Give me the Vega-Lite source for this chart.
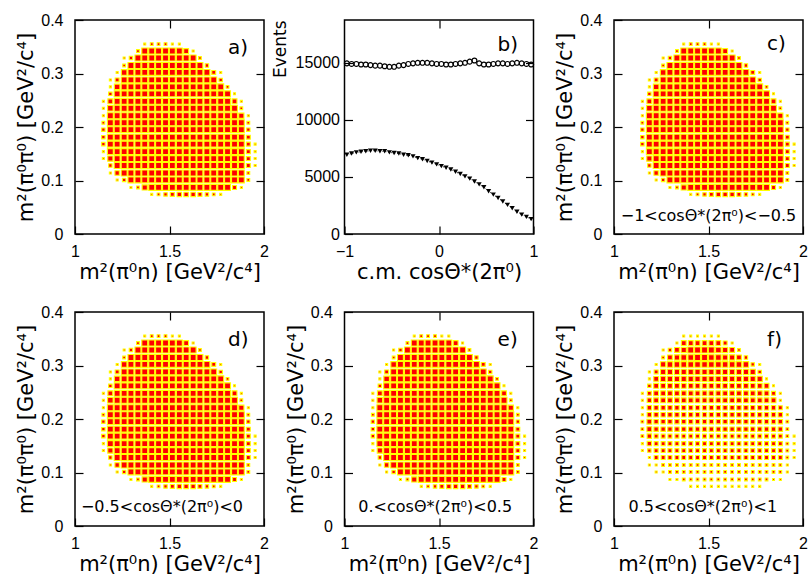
{
"$schema":"https://vega.github.io/schema/vega-lite/v6.json",
"background":"white",
"autosize":{"type":"pad"},
"padding":{"left":15,"top":11,"right":2,"bottom":2},
"config":{
 "view":{"stroke":"black","strokeWidth":1.5},
 "font":"DejaVu Sans",
 "axis":{"domain":false,"grid":false,"labelFontSize":16,"titleFontSize":21,"titleFontWeight":"normal","labelColor":"black","titleColor":"black","tickColor":"black","tickWidth":1.2,"tickSize":-8,"labelFlush":false,"labelOverlap":false,"labelBound":false,"labelFont":"Liberation Sans","titleFont":"DejaVu Sans"},
 "text":{"font":"DejaVu Sans","color":"black"}
},
"datasets":{
"cells":[
{"x":1.406,"y":0.074,"a":1,"c":1,"d":1,"e":1,"f":1},
{"x":1.442,"y":0.074,"a":2,"c":2,"d":2,"e":2,"f":1},
{"x":1.479,"y":0.074,"a":3,"c":3,"d":3,"e":3,"f":1},
{"x":1.515,"y":0.074,"a":4,"c":4,"d":4,"e":4,"f":1},
{"x":1.552,"y":0.074,"a":5,"c":5,"d":5,"e":5,"f":1},
{"x":1.588,"y":0.074,"a":5,"c":5,"d":5,"e":5,"f":1},
{"x":1.625,"y":0.074,"a":5,"c":5,"d":5,"e":5,"f":1},
{"x":1.661,"y":0.074,"a":4,"c":4,"d":4,"e":4,"f":1},
{"x":1.698,"y":0.074,"a":3,"c":3,"d":3,"e":3,"f":1},
{"x":1.734,"y":0.074,"a":2,"c":2,"d":2,"e":2,"f":1},
{"x":1.771,"y":0.074,"a":1,"c":1,"d":1,"e":1,"f":1},
{"x":1.296,"y":0.087,"a":1,"c":1,"d":1,"e":1,"f":1},
{"x":1.333,"y":0.087,"a":2,"c":2,"d":2,"e":2,"f":1},
{"x":1.369,"y":0.087,"a":7,"c":7,"d":7,"e":7,"f":2},
{"x":1.406,"y":0.087,"a":9,"c":9,"d":9,"e":9,"f":2},
{"x":1.442,"y":0.087,"a":9,"c":9,"d":9,"e":9,"f":2},
{"x":1.479,"y":0.087,"a":9,"c":9,"d":9,"e":9,"f":2},
{"x":1.515,"y":0.087,"a":9,"c":9,"d":9,"e":9,"f":2},
{"x":1.552,"y":0.087,"a":9,"c":9,"d":9,"e":9,"f":2},
{"x":1.588,"y":0.087,"a":9,"c":9,"d":9,"e":9,"f":2},
{"x":1.625,"y":0.087,"a":9,"c":9,"d":9,"e":9,"f":2},
{"x":1.661,"y":0.087,"a":9,"c":9,"d":9,"e":9,"f":2},
{"x":1.698,"y":0.087,"a":9,"c":9,"d":9,"e":9,"f":2},
{"x":1.734,"y":0.087,"a":9,"c":9,"d":9,"e":9,"f":2},
{"x":1.771,"y":0.087,"a":9,"c":9,"d":9,"e":9,"f":2},
{"x":1.807,"y":0.087,"a":9,"c":9,"d":9,"e":9,"f":2},
{"x":1.844,"y":0.087,"a":4,"c":4,"d":4,"e":4,"f":1},
{"x":1.88,"y":0.087,"a":1,"c":1,"d":1,"e":1,"f":1},
{"x":1.223,"y":0.101,"a":1,"c":1,"d":1,"e":1,"f":1},
{"x":1.26,"y":0.101,"a":3,"c":3,"d":3,"e":3,"f":1},
{"x":1.296,"y":0.101,"a":9,"c":9,"d":9,"e":9,"f":2},
{"x":1.333,"y":0.101,"a":9,"c":9,"d":9,"e":9,"f":2},
{"x":1.369,"y":0.101,"a":9,"c":9,"d":9,"e":9,"f":2},
{"x":1.406,"y":0.101,"a":9,"c":9,"d":9,"e":9,"f":2},
{"x":1.442,"y":0.101,"a":9,"c":9,"d":9,"e":9,"f":2},
{"x":1.479,"y":0.101,"a":9,"c":9,"d":9,"e":9,"f":2},
{"x":1.515,"y":0.101,"a":9,"c":9,"d":9,"e":9,"f":2},
{"x":1.552,"y":0.101,"a":9,"c":9,"d":9,"e":9,"f":2},
{"x":1.588,"y":0.101,"a":9,"c":9,"d":9,"e":9,"f":2},
{"x":1.625,"y":0.101,"a":9,"c":9,"d":9,"e":9,"f":2},
{"x":1.661,"y":0.101,"a":9,"c":9,"d":9,"e":9,"f":2},
{"x":1.698,"y":0.101,"a":9,"c":9,"d":9,"e":9,"f":2},
{"x":1.734,"y":0.101,"a":9,"c":9,"d":9,"e":9,"f":2},
{"x":1.771,"y":0.101,"a":9,"c":9,"d":9,"e":9,"f":2},
{"x":1.807,"y":0.101,"a":9,"c":9,"d":9,"e":9,"f":2},
{"x":1.844,"y":0.101,"a":9,"c":9,"d":9,"e":9,"f":2},
{"x":1.88,"y":0.101,"a":9,"c":9,"d":9,"e":9,"f":2},
{"x":1.917,"y":0.101,"a":2,"c":2,"d":2,"e":2,"f":1},
{"x":1.187,"y":0.114,"a":1,"c":1,"d":1,"e":1,"f":1},
{"x":1.223,"y":0.114,"a":5,"c":5,"d":5,"e":5,"f":1},
{"x":1.26,"y":0.114,"a":9,"c":9,"d":9,"e":9,"f":2},
{"x":1.296,"y":0.114,"a":9,"c":9,"d":9,"e":9,"f":2},
{"x":1.333,"y":0.114,"a":9,"c":9,"d":9,"e":9,"f":2},
{"x":1.369,"y":0.114,"a":9,"c":9,"d":9,"e":9,"f":2},
{"x":1.406,"y":0.114,"a":9,"c":9,"d":9,"e":9,"f":2},
{"x":1.442,"y":0.114,"a":9,"c":9,"d":9,"e":9,"f":2},
{"x":1.479,"y":0.114,"a":9,"c":9,"d":9,"e":9,"f":2},
{"x":1.515,"y":0.114,"a":9,"c":9,"d":9,"e":9,"f":2},
{"x":1.552,"y":0.114,"a":9,"c":9,"d":9,"e":9,"f":2},
{"x":1.588,"y":0.114,"a":9,"c":9,"d":9,"e":9,"f":2},
{"x":1.625,"y":0.114,"a":9,"c":9,"d":9,"e":9,"f":2},
{"x":1.661,"y":0.114,"a":9,"c":9,"d":9,"e":9,"f":2},
{"x":1.698,"y":0.114,"a":9,"c":9,"d":9,"e":9,"f":2},
{"x":1.734,"y":0.114,"a":9,"c":9,"d":9,"e":9,"f":2},
{"x":1.771,"y":0.114,"a":9,"c":9,"d":9,"e":9,"f":2},
{"x":1.807,"y":0.114,"a":9,"c":9,"d":9,"e":9,"f":2},
{"x":1.844,"y":0.114,"a":9,"c":9,"d":9,"e":9,"f":2},
{"x":1.88,"y":0.114,"a":9,"c":9,"d":9,"e":9,"f":2},
{"x":1.917,"y":0.114,"a":2,"c":2,"d":2,"e":2,"f":1},
{"x":1.187,"y":0.128,"a":3,"c":3,"d":3,"e":3,"f":1},
{"x":1.223,"y":0.128,"a":9,"c":9,"d":9,"e":9,"f":4},
{"x":1.26,"y":0.128,"a":9,"c":9,"d":9,"e":9,"f":4},
{"x":1.296,"y":0.128,"a":9,"c":9,"d":9,"e":9,"f":4},
{"x":1.333,"y":0.128,"a":9,"c":9,"d":9,"e":9,"f":4},
{"x":1.369,"y":0.128,"a":9,"c":9,"d":9,"e":9,"f":4},
{"x":1.406,"y":0.128,"a":9,"c":9,"d":9,"e":9,"f":4},
{"x":1.442,"y":0.128,"a":9,"c":9,"d":9,"e":9,"f":4},
{"x":1.479,"y":0.128,"a":9,"c":9,"d":9,"e":9,"f":4},
{"x":1.515,"y":0.128,"a":9,"c":9,"d":9,"e":9,"f":4},
{"x":1.552,"y":0.128,"a":9,"c":9,"d":9,"e":9,"f":4},
{"x":1.588,"y":0.128,"a":9,"c":9,"d":9,"e":9,"f":4},
{"x":1.625,"y":0.128,"a":9,"c":9,"d":9,"e":9,"f":4},
{"x":1.661,"y":0.128,"a":9,"c":9,"d":9,"e":9,"f":4},
{"x":1.698,"y":0.128,"a":9,"c":9,"d":9,"e":9,"f":4},
{"x":1.734,"y":0.128,"a":9,"c":9,"d":9,"e":9,"f":4},
{"x":1.771,"y":0.128,"a":9,"c":9,"d":9,"e":9,"f":4},
{"x":1.807,"y":0.128,"a":9,"c":9,"d":9,"e":9,"f":4},
{"x":1.844,"y":0.128,"a":9,"c":9,"d":9,"e":9,"f":4},
{"x":1.88,"y":0.128,"a":9,"c":9,"d":9,"e":9,"f":4},
{"x":1.917,"y":0.128,"a":4,"c":4,"d":4,"e":4,"f":2},
{"x":1.953,"y":0.128,"a":1,"c":1,"d":1,"e":1,"f":1},
{"x":1.15,"y":0.141,"a":1,"c":1,"d":1,"e":1,"f":1},
{"x":1.187,"y":0.141,"a":7,"c":7,"d":7,"e":7,"f":3},
{"x":1.223,"y":0.141,"a":9,"c":9,"d":9,"e":9,"f":4},
{"x":1.26,"y":0.141,"a":9,"c":9,"d":9,"e":9,"f":4},
{"x":1.296,"y":0.141,"a":9,"c":9,"d":9,"e":9,"f":4},
{"x":1.333,"y":0.141,"a":9,"c":9,"d":9,"e":9,"f":4},
{"x":1.369,"y":0.141,"a":9,"c":9,"d":9,"e":9,"f":4},
{"x":1.406,"y":0.141,"a":9,"c":9,"d":9,"e":9,"f":4},
{"x":1.442,"y":0.141,"a":9,"c":9,"d":9,"e":9,"f":4},
{"x":1.479,"y":0.141,"a":9,"c":9,"d":9,"e":9,"f":4},
{"x":1.515,"y":0.141,"a":9,"c":9,"d":9,"e":9,"f":4},
{"x":1.552,"y":0.141,"a":9,"c":9,"d":9,"e":9,"f":4},
{"x":1.588,"y":0.141,"a":9,"c":9,"d":9,"e":9,"f":4},
{"x":1.625,"y":0.141,"a":9,"c":9,"d":9,"e":9,"f":4},
{"x":1.661,"y":0.141,"a":9,"c":9,"d":9,"e":9,"f":4},
{"x":1.698,"y":0.141,"a":9,"c":9,"d":9,"e":9,"f":4},
{"x":1.734,"y":0.141,"a":9,"c":9,"d":9,"e":9,"f":4},
{"x":1.771,"y":0.141,"a":9,"c":9,"d":9,"e":9,"f":4},
{"x":1.807,"y":0.141,"a":9,"c":9,"d":9,"e":9,"f":4},
{"x":1.844,"y":0.141,"a":9,"c":9,"d":9,"e":9,"f":4},
{"x":1.88,"y":0.141,"a":9,"c":9,"d":9,"e":9,"f":4},
{"x":1.917,"y":0.141,"a":4,"c":4,"d":4,"e":4,"f":2},
{"x":1.953,"y":0.141,"a":1,"c":1,"d":1,"e":1,"f":1},
{"x":1.15,"y":0.154,"a":1,"c":1,"d":1,"e":1,"f":1},
{"x":1.187,"y":0.154,"a":9,"c":9,"d":9,"e":9,"f":5},
{"x":1.223,"y":0.154,"a":9,"c":9,"d":9,"e":9,"f":4},
{"x":1.26,"y":0.154,"a":9,"c":9,"d":9,"e":9,"f":4},
{"x":1.296,"y":0.154,"a":9,"c":9,"d":9,"e":9,"f":4},
{"x":1.333,"y":0.154,"a":9,"c":9,"d":9,"e":9,"f":4},
{"x":1.369,"y":0.154,"a":9,"c":9,"d":9,"e":9,"f":4},
{"x":1.406,"y":0.154,"a":9,"c":9,"d":9,"e":9,"f":4},
{"x":1.442,"y":0.154,"a":9,"c":9,"d":9,"e":9,"f":4},
{"x":1.479,"y":0.154,"a":9,"c":9,"d":9,"e":9,"f":4},
{"x":1.515,"y":0.154,"a":9,"c":9,"d":9,"e":9,"f":4},
{"x":1.552,"y":0.154,"a":9,"c":9,"d":9,"e":9,"f":4},
{"x":1.588,"y":0.154,"a":9,"c":9,"d":9,"e":9,"f":4},
{"x":1.625,"y":0.154,"a":9,"c":9,"d":9,"e":9,"f":4},
{"x":1.661,"y":0.154,"a":9,"c":9,"d":9,"e":9,"f":4},
{"x":1.698,"y":0.154,"a":9,"c":9,"d":9,"e":9,"f":4},
{"x":1.734,"y":0.154,"a":9,"c":9,"d":9,"e":9,"f":4},
{"x":1.771,"y":0.154,"a":9,"c":9,"d":9,"e":9,"f":4},
{"x":1.807,"y":0.154,"a":9,"c":9,"d":9,"e":9,"f":4},
{"x":1.844,"y":0.154,"a":9,"c":9,"d":9,"e":9,"f":4},
{"x":1.88,"y":0.154,"a":9,"c":9,"d":9,"e":9,"f":4},
{"x":1.917,"y":0.154,"a":4,"c":4,"d":4,"e":4,"f":2},
{"x":1.953,"y":0.154,"a":1,"c":1,"d":1,"e":1,"f":1},
{"x":1.15,"y":0.168,"a":3,"c":3,"d":3,"e":3,"f":2},
{"x":1.187,"y":0.168,"a":9,"c":9,"d":9,"e":9,"f":5},
{"x":1.223,"y":0.168,"a":9,"c":9,"d":9,"e":9,"f":4},
{"x":1.26,"y":0.168,"a":9,"c":9,"d":9,"e":9,"f":4},
{"x":1.296,"y":0.168,"a":9,"c":9,"d":9,"e":9,"f":4},
{"x":1.333,"y":0.168,"a":9,"c":9,"d":9,"e":9,"f":4},
{"x":1.369,"y":0.168,"a":9,"c":9,"d":9,"e":9,"f":4},
{"x":1.406,"y":0.168,"a":9,"c":9,"d":9,"e":9,"f":4},
{"x":1.442,"y":0.168,"a":9,"c":9,"d":9,"e":9,"f":4},
{"x":1.479,"y":0.168,"a":9,"c":9,"d":9,"e":9,"f":4},
{"x":1.515,"y":0.168,"a":9,"c":9,"d":9,"e":9,"f":4},
{"x":1.552,"y":0.168,"a":9,"c":9,"d":9,"e":9,"f":4},
{"x":1.588,"y":0.168,"a":9,"c":9,"d":9,"e":9,"f":4},
{"x":1.625,"y":0.168,"a":9,"c":9,"d":9,"e":9,"f":4},
{"x":1.661,"y":0.168,"a":9,"c":9,"d":9,"e":9,"f":4},
{"x":1.698,"y":0.168,"a":9,"c":9,"d":9,"e":9,"f":4},
{"x":1.734,"y":0.168,"a":9,"c":9,"d":9,"e":9,"f":4},
{"x":1.771,"y":0.168,"a":9,"c":9,"d":9,"e":9,"f":4},
{"x":1.807,"y":0.168,"a":9,"c":9,"d":9,"e":9,"f":4},
{"x":1.844,"y":0.168,"a":9,"c":9,"d":9,"e":9,"f":4},
{"x":1.88,"y":0.168,"a":9,"c":9,"d":9,"e":9,"f":4},
{"x":1.917,"y":0.168,"a":4,"c":4,"d":4,"e":4,"f":2},
{"x":1.953,"y":0.168,"a":1,"c":1,"d":1,"e":1,"f":1},
{"x":1.15,"y":0.181,"a":3,"c":3,"d":3,"e":3,"f":2},
{"x":1.187,"y":0.181,"a":9,"c":9,"d":9,"e":9,"f":6},
{"x":1.223,"y":0.181,"a":9,"c":9,"d":9,"e":9,"f":5},
{"x":1.26,"y":0.181,"a":9,"c":9,"d":9,"e":9,"f":5},
{"x":1.296,"y":0.181,"a":9,"c":9,"d":9,"e":9,"f":5},
{"x":1.333,"y":0.181,"a":9,"c":9,"d":9,"e":9,"f":5},
{"x":1.369,"y":0.181,"a":9,"c":9,"d":9,"e":9,"f":5},
{"x":1.406,"y":0.181,"a":9,"c":9,"d":9,"e":9,"f":5},
{"x":1.442,"y":0.181,"a":9,"c":9,"d":9,"e":9,"f":5},
{"x":1.479,"y":0.181,"a":9,"c":9,"d":9,"e":9,"f":5},
{"x":1.515,"y":0.181,"a":9,"c":9,"d":9,"e":9,"f":5},
{"x":1.552,"y":0.181,"a":9,"c":9,"d":9,"e":9,"f":5},
{"x":1.588,"y":0.181,"a":9,"c":9,"d":9,"e":9,"f":5},
{"x":1.625,"y":0.181,"a":9,"c":9,"d":9,"e":9,"f":5},
{"x":1.661,"y":0.181,"a":9,"c":9,"d":9,"e":9,"f":5},
{"x":1.698,"y":0.181,"a":9,"c":9,"d":9,"e":9,"f":5},
{"x":1.734,"y":0.181,"a":9,"c":9,"d":9,"e":9,"f":5},
{"x":1.771,"y":0.181,"a":9,"c":9,"d":9,"e":9,"f":5},
{"x":1.807,"y":0.181,"a":9,"c":9,"d":9,"e":9,"f":5},
{"x":1.844,"y":0.181,"a":9,"c":9,"d":9,"e":9,"f":5},
{"x":1.88,"y":0.181,"a":9,"c":9,"d":9,"e":9,"f":5},
{"x":1.917,"y":0.181,"a":4,"c":4,"d":4,"e":4,"f":2},
{"x":1.15,"y":0.195,"a":3,"c":3,"d":3,"e":3,"f":2},
{"x":1.187,"y":0.195,"a":9,"c":9,"d":9,"e":9,"f":6},
{"x":1.223,"y":0.195,"a":9,"c":9,"d":9,"e":9,"f":5},
{"x":1.26,"y":0.195,"a":9,"c":9,"d":9,"e":9,"f":5},
{"x":1.296,"y":0.195,"a":9,"c":9,"d":9,"e":9,"f":5},
{"x":1.333,"y":0.195,"a":9,"c":9,"d":9,"e":9,"f":5},
{"x":1.369,"y":0.195,"a":9,"c":9,"d":9,"e":9,"f":5},
{"x":1.406,"y":0.195,"a":9,"c":9,"d":9,"e":9,"f":5},
{"x":1.442,"y":0.195,"a":9,"c":9,"d":9,"e":9,"f":5},
{"x":1.479,"y":0.195,"a":9,"c":9,"d":9,"e":9,"f":5},
{"x":1.515,"y":0.195,"a":9,"c":9,"d":9,"e":9,"f":5},
{"x":1.552,"y":0.195,"a":9,"c":9,"d":9,"e":9,"f":5},
{"x":1.588,"y":0.195,"a":9,"c":9,"d":9,"e":9,"f":5},
{"x":1.625,"y":0.195,"a":9,"c":9,"d":9,"e":9,"f":5},
{"x":1.661,"y":0.195,"a":9,"c":9,"d":9,"e":9,"f":5},
{"x":1.698,"y":0.195,"a":9,"c":9,"d":9,"e":9,"f":5},
{"x":1.734,"y":0.195,"a":9,"c":9,"d":9,"e":9,"f":5},
{"x":1.771,"y":0.195,"a":9,"c":9,"d":9,"e":9,"f":5},
{"x":1.807,"y":0.195,"a":9,"c":9,"d":9,"e":9,"f":5},
{"x":1.844,"y":0.195,"a":9,"c":9,"d":9,"e":9,"f":5},
{"x":1.88,"y":0.195,"a":9,"c":9,"d":9,"e":9,"f":5},
{"x":1.917,"y":0.195,"a":3,"c":3,"d":3,"e":3,"f":2},
{"x":1.15,"y":0.208,"a":2,"c":2,"d":2,"e":2,"f":1},
{"x":1.187,"y":0.208,"a":9,"c":9,"d":9,"e":9,"f":5},
{"x":1.223,"y":0.208,"a":9,"c":9,"d":9,"e":9,"f":5},
{"x":1.26,"y":0.208,"a":9,"c":9,"d":9,"e":9,"f":5},
{"x":1.296,"y":0.208,"a":9,"c":9,"d":9,"e":9,"f":5},
{"x":1.333,"y":0.208,"a":9,"c":9,"d":9,"e":9,"f":5},
{"x":1.369,"y":0.208,"a":9,"c":9,"d":9,"e":9,"f":5},
{"x":1.406,"y":0.208,"a":9,"c":9,"d":9,"e":9,"f":5},
{"x":1.442,"y":0.208,"a":9,"c":9,"d":9,"e":9,"f":5},
{"x":1.479,"y":0.208,"a":9,"c":9,"d":9,"e":9,"f":5},
{"x":1.515,"y":0.208,"a":9,"c":9,"d":9,"e":9,"f":5},
{"x":1.552,"y":0.208,"a":9,"c":9,"d":9,"e":9,"f":5},
{"x":1.588,"y":0.208,"a":9,"c":9,"d":9,"e":9,"f":5},
{"x":1.625,"y":0.208,"a":9,"c":9,"d":9,"e":9,"f":5},
{"x":1.661,"y":0.208,"a":9,"c":9,"d":9,"e":9,"f":5},
{"x":1.698,"y":0.208,"a":9,"c":9,"d":9,"e":9,"f":5},
{"x":1.734,"y":0.208,"a":9,"c":9,"d":9,"e":9,"f":5},
{"x":1.771,"y":0.208,"a":9,"c":9,"d":9,"e":9,"f":5},
{"x":1.807,"y":0.208,"a":9,"c":9,"d":9,"e":9,"f":5},
{"x":1.844,"y":0.208,"a":9,"c":9,"d":9,"e":9,"f":5},
{"x":1.88,"y":0.208,"a":9,"c":9,"d":9,"e":9,"f":5},
{"x":1.917,"y":0.208,"a":2,"c":2,"d":2,"e":2,"f":1},
{"x":1.15,"y":0.221,"a":1,"c":1,"d":1,"e":1,"f":1},
{"x":1.187,"y":0.221,"a":9,"c":9,"d":9,"e":9,"f":5},
{"x":1.223,"y":0.221,"a":9,"c":9,"d":9,"e":9,"f":5},
{"x":1.26,"y":0.221,"a":9,"c":9,"d":9,"e":9,"f":5},
{"x":1.296,"y":0.221,"a":9,"c":9,"d":9,"e":9,"f":5},
{"x":1.333,"y":0.221,"a":9,"c":9,"d":9,"e":9,"f":5},
{"x":1.369,"y":0.221,"a":9,"c":9,"d":9,"e":9,"f":5},
{"x":1.406,"y":0.221,"a":9,"c":9,"d":9,"e":9,"f":5},
{"x":1.442,"y":0.221,"a":9,"c":9,"d":9,"e":9,"f":5},
{"x":1.479,"y":0.221,"a":9,"c":9,"d":9,"e":9,"f":5},
{"x":1.515,"y":0.221,"a":9,"c":9,"d":9,"e":9,"f":5},
{"x":1.552,"y":0.221,"a":9,"c":9,"d":9,"e":9,"f":5},
{"x":1.588,"y":0.221,"a":9,"c":9,"d":9,"e":9,"f":5},
{"x":1.625,"y":0.221,"a":9,"c":9,"d":9,"e":9,"f":5},
{"x":1.661,"y":0.221,"a":9,"c":9,"d":9,"e":9,"f":5},
{"x":1.698,"y":0.221,"a":9,"c":9,"d":9,"e":9,"f":5},
{"x":1.734,"y":0.221,"a":9,"c":9,"d":9,"e":9,"f":5},
{"x":1.771,"y":0.221,"a":9,"c":9,"d":9,"e":9,"f":5},
{"x":1.807,"y":0.221,"a":9,"c":9,"d":9,"e":9,"f":5},
{"x":1.844,"y":0.221,"a":9,"c":9,"d":9,"e":9,"f":5},
{"x":1.88,"y":0.221,"a":7,"c":7,"d":7,"e":7,"f":4},
{"x":1.917,"y":0.221,"a":1,"c":1,"d":1,"e":1,"f":1},
{"x":1.15,"y":0.235,"a":1,"c":1,"d":1,"e":1,"f":1},
{"x":1.187,"y":0.235,"a":8,"c":8,"d":8,"e":8,"f":5},
{"x":1.223,"y":0.235,"a":9,"c":9,"d":9,"e":9,"f":6},
{"x":1.26,"y":0.235,"a":9,"c":9,"d":9,"e":9,"f":6},
{"x":1.296,"y":0.235,"a":9,"c":9,"d":9,"e":9,"f":6},
{"x":1.333,"y":0.235,"a":9,"c":9,"d":9,"e":9,"f":6},
{"x":1.369,"y":0.235,"a":9,"c":9,"d":9,"e":9,"f":6},
{"x":1.406,"y":0.235,"a":9,"c":9,"d":9,"e":9,"f":6},
{"x":1.442,"y":0.235,"a":9,"c":9,"d":9,"e":9,"f":6},
{"x":1.479,"y":0.235,"a":9,"c":9,"d":9,"e":9,"f":6},
{"x":1.515,"y":0.235,"a":9,"c":9,"d":9,"e":9,"f":6},
{"x":1.552,"y":0.235,"a":9,"c":9,"d":9,"e":9,"f":6},
{"x":1.588,"y":0.235,"a":9,"c":9,"d":9,"e":9,"f":6},
{"x":1.625,"y":0.235,"a":9,"c":9,"d":9,"e":9,"f":6},
{"x":1.661,"y":0.235,"a":9,"c":9,"d":9,"e":9,"f":6},
{"x":1.698,"y":0.235,"a":9,"c":9,"d":9,"e":9,"f":6},
{"x":1.734,"y":0.235,"a":9,"c":9,"d":9,"e":9,"f":6},
{"x":1.771,"y":0.235,"a":9,"c":9,"d":9,"e":9,"f":6},
{"x":1.807,"y":0.235,"a":9,"c":9,"d":9,"e":9,"f":6},
{"x":1.844,"y":0.235,"a":9,"c":9,"d":9,"e":9,"f":6},
{"x":1.88,"y":0.235,"a":2,"c":2,"d":2,"e":2,"f":1},
{"x":1.15,"y":0.248,"a":1,"c":1,"d":1,"e":1,"f":1},
{"x":1.187,"y":0.248,"a":6,"c":6,"d":6,"e":6,"f":4},
{"x":1.223,"y":0.248,"a":9,"c":9,"d":9,"e":9,"f":6},
{"x":1.26,"y":0.248,"a":9,"c":9,"d":9,"e":9,"f":6},
{"x":1.296,"y":0.248,"a":9,"c":9,"d":9,"e":9,"f":6},
{"x":1.333,"y":0.248,"a":9,"c":9,"d":9,"e":9,"f":6},
{"x":1.369,"y":0.248,"a":9,"c":9,"d":9,"e":9,"f":6},
{"x":1.406,"y":0.248,"a":9,"c":9,"d":9,"e":9,"f":6},
{"x":1.442,"y":0.248,"a":9,"c":9,"d":9,"e":9,"f":6},
{"x":1.479,"y":0.248,"a":9,"c":9,"d":9,"e":9,"f":6},
{"x":1.515,"y":0.248,"a":9,"c":9,"d":9,"e":9,"f":6},
{"x":1.552,"y":0.248,"a":9,"c":9,"d":9,"e":9,"f":6},
{"x":1.588,"y":0.248,"a":9,"c":9,"d":9,"e":9,"f":6},
{"x":1.625,"y":0.248,"a":9,"c":9,"d":9,"e":9,"f":6},
{"x":1.661,"y":0.248,"a":9,"c":9,"d":9,"e":9,"f":6},
{"x":1.698,"y":0.248,"a":9,"c":9,"d":9,"e":9,"f":6},
{"x":1.734,"y":0.248,"a":9,"c":9,"d":9,"e":9,"f":6},
{"x":1.771,"y":0.248,"a":9,"c":9,"d":9,"e":9,"f":6},
{"x":1.807,"y":0.248,"a":9,"c":9,"d":9,"e":9,"f":6},
{"x":1.844,"y":0.248,"a":6,"c":6,"d":6,"e":6,"f":4},
{"x":1.88,"y":0.248,"a":1,"c":1,"d":1,"e":1,"f":1},
{"x":1.187,"y":0.262,"a":3,"c":3,"d":3,"e":3,"f":3},
{"x":1.223,"y":0.262,"a":9,"c":9,"d":9,"e":9,"f":6},
{"x":1.26,"y":0.262,"a":9,"c":9,"d":9,"e":9,"f":6},
{"x":1.296,"y":0.262,"a":9,"c":9,"d":9,"e":9,"f":6},
{"x":1.333,"y":0.262,"a":9,"c":9,"d":9,"e":9,"f":6},
{"x":1.369,"y":0.262,"a":9,"c":9,"d":9,"e":9,"f":6},
{"x":1.406,"y":0.262,"a":9,"c":9,"d":9,"e":9,"f":6},
{"x":1.442,"y":0.262,"a":9,"c":9,"d":9,"e":9,"f":6},
{"x":1.479,"y":0.262,"a":9,"c":9,"d":9,"e":9,"f":6},
{"x":1.515,"y":0.262,"a":9,"c":9,"d":9,"e":9,"f":6},
{"x":1.552,"y":0.262,"a":9,"c":9,"d":9,"e":9,"f":6},
{"x":1.588,"y":0.262,"a":9,"c":9,"d":9,"e":9,"f":6},
{"x":1.625,"y":0.262,"a":9,"c":9,"d":9,"e":9,"f":6},
{"x":1.661,"y":0.262,"a":9,"c":9,"d":9,"e":9,"f":6},
{"x":1.698,"y":0.262,"a":9,"c":9,"d":9,"e":9,"f":6},
{"x":1.734,"y":0.262,"a":9,"c":9,"d":9,"e":9,"f":6},
{"x":1.771,"y":0.262,"a":9,"c":9,"d":9,"e":9,"f":6},
{"x":1.807,"y":0.262,"a":9,"c":9,"d":9,"e":9,"f":6},
{"x":1.844,"y":0.262,"a":1,"c":1,"d":1,"e":1,"f":1},
{"x":1.187,"y":0.275,"a":1,"c":1,"d":1,"e":1,"f":1},
{"x":1.223,"y":0.275,"a":8,"c":8,"d":8,"e":8,"f":6},
{"x":1.26,"y":0.275,"a":9,"c":9,"d":9,"e":9,"f":7},
{"x":1.296,"y":0.275,"a":9,"c":9,"d":9,"e":9,"f":7},
{"x":1.333,"y":0.275,"a":9,"c":9,"d":9,"e":9,"f":7},
{"x":1.369,"y":0.275,"a":9,"c":9,"d":9,"e":9,"f":7},
{"x":1.406,"y":0.275,"a":9,"c":9,"d":9,"e":9,"f":7},
{"x":1.442,"y":0.275,"a":9,"c":9,"d":9,"e":9,"f":7},
{"x":1.479,"y":0.275,"a":9,"c":9,"d":9,"e":9,"f":7},
{"x":1.515,"y":0.275,"a":9,"c":9,"d":9,"e":9,"f":7},
{"x":1.552,"y":0.275,"a":9,"c":9,"d":9,"e":9,"f":7},
{"x":1.588,"y":0.275,"a":9,"c":9,"d":9,"e":9,"f":7},
{"x":1.625,"y":0.275,"a":9,"c":9,"d":9,"e":9,"f":7},
{"x":1.661,"y":0.275,"a":9,"c":9,"d":9,"e":9,"f":7},
{"x":1.698,"y":0.275,"a":9,"c":9,"d":9,"e":9,"f":7},
{"x":1.734,"y":0.275,"a":9,"c":9,"d":9,"e":9,"f":7},
{"x":1.771,"y":0.275,"a":9,"c":9,"d":9,"e":9,"f":7},
{"x":1.807,"y":0.275,"a":2,"c":2,"d":2,"e":2,"f":1},
{"x":1.187,"y":0.288,"a":1,"c":1,"d":1,"e":1,"f":1},
{"x":1.223,"y":0.288,"a":4,"c":4,"d":4,"e":4,"f":4},
{"x":1.26,"y":0.288,"a":9,"c":9,"d":9,"e":9,"f":7},
{"x":1.296,"y":0.288,"a":9,"c":9,"d":9,"e":9,"f":7},
{"x":1.333,"y":0.288,"a":9,"c":9,"d":9,"e":9,"f":7},
{"x":1.369,"y":0.288,"a":9,"c":9,"d":9,"e":9,"f":7},
{"x":1.406,"y":0.288,"a":9,"c":9,"d":9,"e":9,"f":7},
{"x":1.442,"y":0.288,"a":9,"c":9,"d":9,"e":9,"f":7},
{"x":1.479,"y":0.288,"a":9,"c":9,"d":9,"e":9,"f":7},
{"x":1.515,"y":0.288,"a":9,"c":9,"d":9,"e":9,"f":7},
{"x":1.552,"y":0.288,"a":9,"c":9,"d":9,"e":9,"f":7},
{"x":1.588,"y":0.288,"a":9,"c":9,"d":9,"e":9,"f":7},
{"x":1.625,"y":0.288,"a":9,"c":9,"d":9,"e":9,"f":7},
{"x":1.661,"y":0.288,"a":9,"c":9,"d":9,"e":9,"f":7},
{"x":1.698,"y":0.288,"a":9,"c":9,"d":9,"e":9,"f":7},
{"x":1.734,"y":0.288,"a":9,"c":9,"d":9,"e":9,"f":7},
{"x":1.771,"y":0.288,"a":3,"c":3,"d":3,"e":3,"f":3},
{"x":1.223,"y":0.302,"a":1,"c":1,"d":1,"e":1,"f":1},
{"x":1.26,"y":0.302,"a":8,"c":8,"d":8,"e":8,"f":7},
{"x":1.296,"y":0.302,"a":9,"c":9,"d":9,"e":9,"f":8},
{"x":1.333,"y":0.302,"a":9,"c":9,"d":9,"e":9,"f":8},
{"x":1.369,"y":0.302,"a":9,"c":9,"d":9,"e":9,"f":8},
{"x":1.406,"y":0.302,"a":9,"c":9,"d":9,"e":9,"f":8},
{"x":1.442,"y":0.302,"a":9,"c":9,"d":9,"e":9,"f":8},
{"x":1.479,"y":0.302,"a":9,"c":9,"d":9,"e":9,"f":8},
{"x":1.515,"y":0.302,"a":9,"c":9,"d":9,"e":9,"f":8},
{"x":1.552,"y":0.302,"a":9,"c":9,"d":9,"e":9,"f":8},
{"x":1.588,"y":0.302,"a":9,"c":9,"d":9,"e":9,"f":8},
{"x":1.625,"y":0.302,"a":9,"c":9,"d":9,"e":9,"f":8},
{"x":1.661,"y":0.302,"a":9,"c":9,"d":9,"e":9,"f":8},
{"x":1.698,"y":0.302,"a":9,"c":9,"d":9,"e":9,"f":8},
{"x":1.734,"y":0.302,"a":4,"c":4,"d":4,"e":4,"f":3},
{"x":1.771,"y":0.302,"a":1,"c":1,"d":1,"e":1,"f":1},
{"x":1.26,"y":0.315,"a":2,"c":2,"d":2,"e":2,"f":2},
{"x":1.296,"y":0.315,"a":9,"c":9,"d":9,"e":9,"f":6},
{"x":1.333,"y":0.315,"a":9,"c":9,"d":9,"e":9,"f":7},
{"x":1.369,"y":0.315,"a":9,"c":9,"d":9,"e":9,"f":8},
{"x":1.406,"y":0.315,"a":9,"c":9,"d":9,"e":9,"f":8},
{"x":1.442,"y":0.315,"a":9,"c":9,"d":9,"e":9,"f":9},
{"x":1.479,"y":0.315,"a":9,"c":9,"d":9,"e":9,"f":9},
{"x":1.515,"y":0.315,"a":9,"c":9,"d":9,"e":9,"f":8},
{"x":1.552,"y":0.315,"a":9,"c":9,"d":9,"e":9,"f":8},
{"x":1.588,"y":0.315,"a":9,"c":9,"d":9,"e":9,"f":7},
{"x":1.625,"y":0.315,"a":9,"c":9,"d":9,"e":9,"f":7},
{"x":1.661,"y":0.315,"a":9,"c":9,"d":9,"e":9,"f":6},
{"x":1.698,"y":0.315,"a":3,"c":3,"d":3,"e":3,"f":3},
{"x":1.26,"y":0.329,"a":1,"c":1,"d":1,"e":1,"f":1},
{"x":1.296,"y":0.329,"a":3,"c":3,"d":3,"e":3,"f":3},
{"x":1.333,"y":0.329,"a":9,"c":9,"d":9,"e":9,"f":6},
{"x":1.369,"y":0.329,"a":9,"c":9,"d":9,"e":9,"f":7},
{"x":1.406,"y":0.329,"a":9,"c":9,"d":9,"e":9,"f":9},
{"x":1.442,"y":0.329,"a":9,"c":9,"d":9,"e":9,"f":9},
{"x":1.479,"y":0.329,"a":9,"c":9,"d":9,"e":9,"f":9},
{"x":1.515,"y":0.329,"a":9,"c":9,"d":9,"e":9,"f":9},
{"x":1.552,"y":0.329,"a":9,"c":9,"d":9,"e":9,"f":8},
{"x":1.588,"y":0.329,"a":9,"c":9,"d":9,"e":9,"f":7},
{"x":1.625,"y":0.329,"a":9,"c":9,"d":9,"e":9,"f":6},
{"x":1.661,"y":0.329,"a":2,"c":2,"d":2,"e":2,"f":2},
{"x":1.333,"y":0.342,"a":2,"c":2,"d":2,"e":2,"f":1},
{"x":1.369,"y":0.342,"a":9,"c":9,"d":9,"e":9,"f":6},
{"x":1.406,"y":0.342,"a":9,"c":9,"d":9,"e":9,"f":6},
{"x":1.442,"y":0.342,"a":9,"c":9,"d":9,"e":9,"f":6},
{"x":1.479,"y":0.342,"a":9,"c":9,"d":9,"e":9,"f":6},
{"x":1.515,"y":0.342,"a":9,"c":9,"d":9,"e":9,"f":6},
{"x":1.552,"y":0.342,"a":9,"c":9,"d":9,"e":9,"f":6},
{"x":1.588,"y":0.342,"a":6,"c":6,"d":6,"e":6,"f":4},
{"x":1.625,"y":0.342,"a":1,"c":1,"d":1,"e":1,"f":1},
{"x":1.369,"y":0.355,"a":1,"c":1,"d":1,"e":1,"f":1},
{"x":1.406,"y":0.355,"a":2,"c":2,"d":2,"e":2,"f":1},
{"x":1.442,"y":0.355,"a":2,"c":2,"d":2,"e":2,"f":1},
{"x":1.479,"y":0.355,"a":2,"c":2,"d":2,"e":2,"f":1},
{"x":1.515,"y":0.355,"a":1,"c":1,"d":1,"e":1,"f":1},
{"x":1.552,"y":0.355,"a":1,"c":1,"d":1,"e":1,"f":1}
],
"ang":[
{"c":-0.975,"n":14950,"k":"o"},{"c":-0.925,"n":14900,"k":"o"},{"c":-0.875,"n":14900,"k":"o"},{"c":-0.825,"n":14850,"k":"o"},
{"c":-0.775,"n":14850,"k":"o"},{"c":-0.725,"n":14800,"k":"o"},{"c":-0.675,"n":14750,"k":"o"},{"c":-0.625,"n":14750,"k":"o"},
{"c":-0.575,"n":14700,"k":"o"},{"c":-0.525,"n":14650,"k":"o"},{"c":-0.475,"n":14650,"k":"o"},{"c":-0.425,"n":14750,"k":"o"},
{"c":-0.375,"n":14800,"k":"o"},{"c":-0.325,"n":14900,"k":"o"},{"c":-0.275,"n":14950,"k":"o"},{"c":-0.225,"n":15000,"k":"o"},
{"c":-0.175,"n":15000,"k":"o"},{"c":-0.125,"n":15000,"k":"o"},{"c":-0.075,"n":14950,"k":"o"},{"c":-0.025,"n":14900,"k":"o"},
{"c":0.025,"n":14900,"k":"o"},{"c":0.075,"n":14850,"k":"o"},{"c":0.125,"n":14850,"k":"o"},{"c":0.175,"n":14900,"k":"o"},
{"c":0.225,"n":14950,"k":"o"},{"c":0.275,"n":15000,"k":"o"},{"c":0.325,"n":15100,"k":"o"},{"c":0.375,"n":15200,"k":"o"},
{"c":0.425,"n":14950,"k":"o"},{"c":0.475,"n":14850,"k":"o"},{"c":0.525,"n":14850,"k":"o"},{"c":0.575,"n":14900,"k":"o"},
{"c":0.625,"n":14950,"k":"o"},{"c":0.675,"n":14950,"k":"o"},{"c":0.725,"n":14900,"k":"o"},{"c":0.775,"n":14950,"k":"o"},
{"c":0.825,"n":15000,"k":"o"},{"c":0.875,"n":14950,"k":"o"},{"c":0.925,"n":14900,"k":"o"},{"c":0.975,"n":14850,"k":"o"},
{"c":-0.975,"n":6950,"k":"t"},{"c":-0.925,"n":7050,"k":"t"},{"c":-0.875,"n":7150,"k":"t"},{"c":-0.825,"n":7200,"k":"t"},
{"c":-0.775,"n":7250,"k":"t"},{"c":-0.725,"n":7300,"k":"t"},{"c":-0.675,"n":7300,"k":"t"},{"c":-0.625,"n":7250,"k":"t"},
{"c":-0.575,"n":7250,"k":"t"},{"c":-0.525,"n":7150,"k":"t"},{"c":-0.475,"n":7100,"k":"t"},{"c":-0.425,"n":7050,"k":"t"},
{"c":-0.375,"n":6950,"k":"t"},{"c":-0.325,"n":6900,"k":"t"},{"c":-0.275,"n":6800,"k":"t"},{"c":-0.225,"n":6650,"k":"t"},
{"c":-0.175,"n":6550,"k":"t"},{"c":-0.125,"n":6400,"k":"t"},{"c":-0.075,"n":6250,"k":"t"},{"c":-0.025,"n":6100,"k":"t"},
{"c":0.025,"n":5950,"k":"t"},{"c":0.075,"n":5800,"k":"t"},{"c":0.125,"n":5650,"k":"t"},{"c":0.175,"n":5450,"k":"t"},
{"c":0.225,"n":5250,"k":"t"},{"c":0.275,"n":5050,"k":"t"},{"c":0.325,"n":4850,"k":"t"},{"c":0.375,"n":4600,"k":"t"},
{"c":0.425,"n":4350,"k":"t"},{"c":0.475,"n":4100,"k":"t"},{"c":0.525,"n":3750,"k":"t"},{"c":0.575,"n":3450,"k":"t"},
{"c":0.625,"n":3150,"k":"t"},{"c":0.675,"n":2850,"k":"t"},{"c":0.725,"n":2550,"k":"t"},{"c":0.775,"n":2250,"k":"t"},
{"c":0.825,"n":1950,"k":"t"},{"c":0.875,"n":1700,"k":"t"},{"c":0.925,"n":1500,"k":"t"},{"c":0.975,"n":1300,"k":"t"}
]
},
"columns":3,
"spacing":{"row":78,"column":80.5},
"bounds":"flush",
"concat":[
 {"width":189,"height":214,
  "layer":[
   {"data":{"name":"cells"},"transform":[{"filter":"datum.a>0"}],
    "mark":{"type":"square","fill":"#ff0000","stroke":"#ffff00","strokeWidth":1.1,"opacity":1},
    "encoding":{
     "x":{"field":"x","type":"quantitative","scale":{"domain":[1,2],"nice":false,"zero":false},"axis":{"orient":"bottom","values":[1,1.5,2],"format":"~g","title":"m²(π⁰n)  [GeV²/c⁴]","labelPadding":17,"titlePadding":2}},
     "y":{"field":"y","type":"quantitative","scale":{"domain":[0,0.4],"nice":false,"zero":false},"axis":{"orient":"left","values":[0,0.1,0.2,0.3,0.4],"format":"~g","title":"m²(π⁰π⁰)  [GeV²/c⁴]","labelPadding":20,"titlePadding":4}},
     "size":{"field":"a","type":"quantitative","scale":{"domain":[0,9],"range":[0,35]},"legend":null}}},
   {"data":{"values":[{}]},"mark":{"type":"text","text":"a)","fontSize":20,"align":"left","baseline":"alphabetic"},
    "encoding":{"x":{"datum":1.81,"type":"quantitative","axis":{"orient":"top","values":[1.5],"labels":false,"title":null}},
                "y":{"datum":0.337,"type":"quantitative","axis":{"orient":"right","values":[0.1,0.2,0.3],"labels":false,"title":null}}}}
  ],
  "resolve":{"axis":{"x":"independent","y":"independent"}}},
 {"width":189,"height":214,
  "layer":[
   {"data":{"name":"ang"},"transform":[{"filter":"datum.k=='o'"}],"mark":{"type":"point","shape":"circle","filled":false,"color":"black","strokeWidth":1.2,"size":24,"opacity":1},
    "encoding":{"x":{"field":"c","type":"quantitative","scale":{"domain":[-1,1],"nice":false,"zero":false},"axis":{"orient":"bottom","values":[-1,0,1],"format":"~g","title":"c.m. cosΘ*(2π⁰)","labelPadding":17,"titlePadding":2}},
     "y":{"field":"n","type":"quantitative","scale":{"domain":[0,18750],"nice":false},"axis":{"orient":"left","values":[0,5000,10000,15000],"format":"d","title":"Events","titleFontSize":17,"titleAnchor":"end","labelPadding":13,"titlePadding":6}}}},
   {"data":{"name":"ang"},"transform":[{"filter":"datum.k=='t'"}],"mark":{"type":"line","color":"black","strokeWidth":1,"strokeDash":[1,2]},
    "encoding":{"x":{"field":"c","type":"quantitative","axis":null},"y":{"field":"n","type":"quantitative","axis":null}}},
   {"data":{"name":"ang"},"transform":[{"filter":"datum.k=='t'"}],"mark":{"type":"point","shape":"triangle-down","filled":true,"color":"black","size":26,"opacity":1},
    "encoding":{"x":{"field":"c","type":"quantitative","axis":null},"y":{"field":"n","type":"quantitative","axis":null}}},
   {"data":{"values":[{}]},"mark":{"type":"text","text":"b)","fontSize":20,"align":"left","baseline":"alphabetic"},
    "encoding":{"x":{"datum":0.62,"type":"quantitative","axis":{"orient":"top","values":[0],"labels":false,"title":null}},
                "y":{"datum":16000,"type":"quantitative","axis":{"orient":"right","values":[5000,10000,15000],"labels":false,"title":null}}}}
  ],
  "resolve":{"axis":{"x":"independent","y":"independent"}}},
 {"width":189,"height":214,
  "layer":[
   {"data":{"name":"cells"},"transform":[{"filter":"datum.c>0"}],
    "mark":{"type":"square","fill":"#ff0000","stroke":"#ffff00","strokeWidth":1.1,"opacity":1},
    "encoding":{
     "x":{"field":"x","type":"quantitative","scale":{"domain":[1,2],"nice":false,"zero":false},"axis":{"orient":"bottom","values":[1,1.5,2],"format":"~g","title":"m²(π⁰n)  [GeV²/c⁴]","labelPadding":17,"titlePadding":2}},
     "y":{"field":"y","type":"quantitative","scale":{"domain":[0,0.4],"nice":false,"zero":false},"axis":{"orient":"left","values":[0,0.1,0.2,0.3,0.4],"format":"~g","title":"m²(π⁰π⁰)  [GeV²/c⁴]","labelPadding":20,"titlePadding":4}},
     "size":{"field":"c","type":"quantitative","scale":{"domain":[0,9],"range":[0,35]},"legend":null}}},
   {"data":{"values":[{}]},"mark":{"type":"text","text":"c)","fontSize":20,"align":"left","baseline":"alphabetic"},
    "encoding":{"x":{"datum":1.81,"type":"quantitative","axis":{"orient":"top","values":[1.5],"labels":false,"title":null}},
                "y":{"datum":0.343,"type":"quantitative","axis":{"orient":"right","values":[0.1,0.2,0.3],"labels":false,"title":null}}}},
   {"data":{"values":[{}]},"mark":{"type":"text","text":"−1<cosΘ*(2π⁰)<−0.5","fontSize":16,"align":"center","baseline":"alphabetic"},
    "encoding":{"x":{"datum":1.5,"type":"quantitative","axis":null},"y":{"datum":0.024,"type":"quantitative","axis":null}}}
  ],
  "resolve":{"axis":{"x":"independent","y":"independent"}}},
 {"width":189,"height":214,
  "layer":[
   {"data":{"name":"cells"},"transform":[{"filter":"datum.d>0"}],
    "mark":{"type":"square","fill":"#ff0000","stroke":"#ffff00","strokeWidth":1.1,"opacity":1},
    "encoding":{
     "x":{"field":"x","type":"quantitative","scale":{"domain":[1,2],"nice":false,"zero":false},"axis":{"orient":"bottom","values":[1,1.5,2],"format":"~g","title":"m²(π⁰n)  [GeV²/c⁴]","labelPadding":17,"titlePadding":2}},
     "y":{"field":"y","type":"quantitative","scale":{"domain":[0,0.4],"nice":false,"zero":false},"axis":{"orient":"left","values":[0,0.1,0.2,0.3,0.4],"format":"~g","title":"m²(π⁰π⁰)  [GeV²/c⁴]","labelPadding":20,"titlePadding":4}},
     "size":{"field":"d","type":"quantitative","scale":{"domain":[0,9],"range":[0,35]},"legend":null}}},
   {"data":{"values":[{}]},"mark":{"type":"text","text":"d)","fontSize":20,"align":"left","baseline":"alphabetic"},
    "encoding":{"x":{"datum":1.81,"type":"quantitative","axis":{"orient":"top","values":[1.5],"labels":false,"title":null}},
                "y":{"datum":0.337,"type":"quantitative","axis":{"orient":"right","values":[0.1,0.2,0.3],"labels":false,"title":null}}}},
   {"data":{"values":[{}]},"mark":{"type":"text","text":"−0.5<cosΘ*(2π⁰)<0","fontSize":16,"align":"center","baseline":"alphabetic"},
    "encoding":{"x":{"datum":1.46,"type":"quantitative","axis":null},"y":{"datum":0.026,"type":"quantitative","axis":null}}}
  ],
  "resolve":{"axis":{"x":"independent","y":"independent"}}},
 {"width":189,"height":214,
  "layer":[
   {"data":{"name":"cells"},"transform":[{"filter":"datum.e>0"}],
    "mark":{"type":"square","fill":"#ff0000","stroke":"#ffff00","strokeWidth":1.1,"opacity":1},
    "encoding":{
     "x":{"field":"x","type":"quantitative","scale":{"domain":[1,2],"nice":false,"zero":false},"axis":{"orient":"bottom","values":[1,1.5,2],"format":"~g","title":"m²(π⁰n)  [GeV²/c⁴]","labelPadding":17,"titlePadding":2}},
     "y":{"field":"y","type":"quantitative","scale":{"domain":[0,0.4],"nice":false,"zero":false},"axis":{"orient":"left","values":[0,0.1,0.2,0.3,0.4],"format":"~g","title":"m²(π⁰π⁰)  [GeV²/c⁴]","labelPadding":20,"titlePadding":4}},
     "size":{"field":"e","type":"quantitative","scale":{"domain":[0,9],"range":[0,35]},"legend":null}}},
   {"data":{"values":[{}]},"mark":{"type":"text","text":"e)","fontSize":20,"align":"left","baseline":"alphabetic"},
    "encoding":{"x":{"datum":1.81,"type":"quantitative","axis":{"orient":"top","values":[1.5],"labels":false,"title":null}},
                "y":{"datum":0.337,"type":"quantitative","axis":{"orient":"right","values":[0.1,0.2,0.3],"labels":false,"title":null}}}},
   {"data":{"values":[{}]},"mark":{"type":"text","text":"0.<cosΘ*(2π⁰)<0.5","fontSize":16,"align":"center","baseline":"alphabetic"},
    "encoding":{"x":{"datum":1.48,"type":"quantitative","axis":null},"y":{"datum":0.026,"type":"quantitative","axis":null}}}
  ],
  "resolve":{"axis":{"x":"independent","y":"independent"}}},
 {"width":189,"height":214,
  "layer":[
   {"data":{"name":"cells"},"transform":[{"filter":"datum.f>0"}],
    "mark":{"type":"square","fill":"#ff0000","stroke":"#ffff00","strokeWidth":1.1,"opacity":1},
    "encoding":{
     "x":{"field":"x","type":"quantitative","scale":{"domain":[1,2],"nice":false,"zero":false},"axis":{"orient":"bottom","values":[1,1.5,2],"format":"~g","title":"m²(π⁰n)  [GeV²/c⁴]","labelPadding":17,"titlePadding":2}},
     "y":{"field":"y","type":"quantitative","scale":{"domain":[0,0.4],"nice":false,"zero":false},"axis":{"orient":"left","values":[0,0.1,0.2,0.3,0.4],"format":"~g","title":"m²(π⁰π⁰)  [GeV²/c⁴]","labelPadding":20,"titlePadding":4}},
     "size":{"field":"f","type":"quantitative","scale":{"domain":[0,9],"range":[0,35]},"legend":null}}},
   {"data":{"values":[{}]},"mark":{"type":"text","text":"f)","fontSize":20,"align":"left","baseline":"alphabetic"},
    "encoding":{"x":{"datum":1.81,"type":"quantitative","axis":{"orient":"top","values":[1.5],"labels":false,"title":null}},
                "y":{"datum":0.337,"type":"quantitative","axis":{"orient":"right","values":[0.1,0.2,0.3],"labels":false,"title":null}}}},
   {"data":{"values":[{}]},"mark":{"type":"text","text":"0.5<cosΘ*(2π⁰)<1","fontSize":16,"align":"center","baseline":"alphabetic"},
    "encoding":{"x":{"datum":1.47,"type":"quantitative","axis":null},"y":{"datum":0.026,"type":"quantitative","axis":null}}}
  ],
  "resolve":{"axis":{"x":"independent","y":"independent"}}}
]
}
